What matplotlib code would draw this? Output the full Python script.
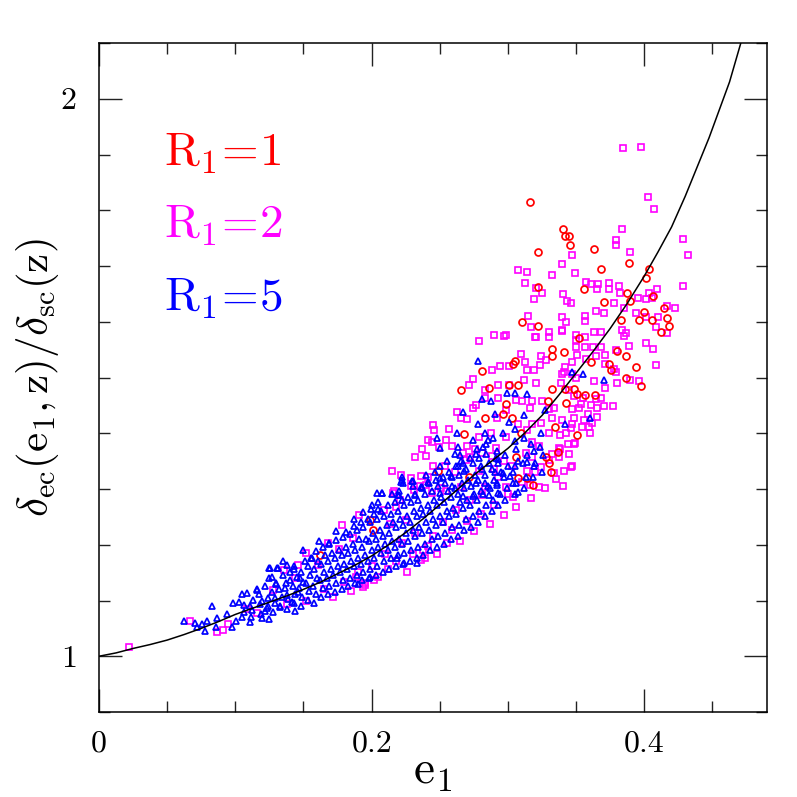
import matplotlib
matplotlib.use("Agg")
import matplotlib.pyplot as plt
from matplotlib.ticker import MultipleLocator, FixedLocator

plt.rcParams['mathtext.fontset'] = 'cm'
plt.rcParams['font.family'] = ['cmr10', 'DejaVu Serif']
plt.rcParams['axes.formatter.use_mathtext'] = True

# ---- theoretical curve ----
curve_e = [0.0, 0.0125, 0.025, 0.0375, 0.05, 0.0625, 0.075, 0.0875, 0.1, 0.1125, 0.125,
           0.1375, 0.15, 0.1625, 0.175, 0.1875, 0.2, 0.2125, 0.225, 0.2375, 0.25, 0.2625,
           0.275, 0.2875, 0.3, 0.3125, 0.325, 0.3375, 0.35, 0.3625, 0.375, 0.3875, 0.4,
           0.41, 0.42, 0.43, 0.44, 0.4475, 0.455, 0.4625, 0.4708]
curve_y = [1.0, 1.006, 1.014, 1.021, 1.029, 1.039, 1.050, 1.062, 1.075, 1.086, 1.097,
           1.108, 1.120, 1.133, 1.148, 1.163, 1.180, 1.200, 1.222, 1.246, 1.272, 1.298,
           1.325, 1.349, 1.373, 1.401, 1.432, 1.469, 1.508, 1.547, 1.588, 1.633, 1.682,
           1.725, 1.770, 1.825, 1.885, 1.930, 1.980, 2.030, 2.100]

# ---- R1 = 1 (red circles) ----
red_points = [
    (0.3165, 1.815), (0.3407, 1.767), (0.3421, 1.753), (0.3451, 1.754), (0.3458, 1.737),
    (0.3223, 1.726), (0.3634, 1.731), (0.3685, 1.694), (0.3890, 1.706), (0.4037, 1.695),
    (0.4015, 1.679), (0.3223, 1.663), (0.3560, 1.659), (0.3875, 1.652), (0.4066, 1.647),
    (0.3707, 1.636), (0.3897, 1.638), (0.4147, 1.624), (0.4000, 1.618), (0.3832, 1.604),
    (0.3963, 1.604), (0.4059, 1.604), (0.4168, 1.606), (0.4183, 1.593), (0.4125, 1.582),
    (0.3106, 1.600), (0.3223, 1.593), (0.3524, 1.570), (0.3055, 1.530), (0.3040, 1.525),
    (0.3326, 1.552), (0.3326, 1.539), (0.3414, 1.545), (0.2813, 1.511), (0.2659, 1.477),
    (0.2864, 1.482), (0.3004, 1.487), (0.3077, 1.487), (0.3326, 1.480), (0.3421, 1.480),
    (0.2989, 1.453), (0.3297, 1.457), (0.3509, 1.471), (0.3429, 1.455), (0.2828, 1.427),
    (0.2960, 1.434), (0.3026, 1.428), (0.2681, 1.398), (0.3092, 1.401), (0.3348, 1.412),
    (0.3062, 1.357), (0.3282, 1.357), (0.3370, 1.367), (0.3304, 1.346), (0.3319, 1.330),
    (0.3136, 1.319), (0.3077, 1.319), (0.3187, 1.308), (0.2484, 1.332), (0.2711, 1.321),
    (0.3802, 1.548), (0.3868, 1.539), (0.3612, 1.527), (0.3744, 1.525), (0.3758, 1.513),
    (0.3941, 1.518), (0.3868, 1.500), (0.3978, 1.484), (0.3568, 1.468), (0.3641, 1.468),
    (0.3487, 1.480), (0.3509, 1.396), (0.1985, 1.244), (0.2007, 1.226), (0.1619, 1.181),
]

# ---- R1 = 2 (magenta squares) ----
magenta_points = [
    (0.3846, 1.912), (0.3978, 1.914), (0.4029, 1.824), (0.4073, 1.803), (0.3839, 1.767),
    (0.3795, 1.746), (0.3795, 1.737), (0.3897, 1.726), (0.4286, 1.749), (0.4322, 1.720),
    (0.3473, 1.719), (0.3399, 1.704), (0.3077, 1.692), (0.3136, 1.690), (0.3326, 1.683),
    (0.3495, 1.688), (0.3128, 1.670), (0.3209, 1.661), (0.3253, 1.652), (0.3575, 1.672),
    (0.3612, 1.667), (0.3663, 1.668), (0.3744, 1.670), (0.3817, 1.665), (0.3656, 1.658),
    (0.3744, 1.659), (0.3824, 1.651), (0.4095, 1.659), (0.4037, 1.652), (0.4059, 1.643),
    (0.4286, 1.665), (0.3407, 1.649), (0.3194, 1.640), (0.3436, 1.638), (0.3465, 1.634),
    (0.3780, 1.634), (0.3853, 1.624), (0.3956, 1.643), (0.4015, 1.640), (0.4168, 1.629),
    (0.4227, 1.624), (0.3648, 1.620), (0.3707, 1.616), (0.3150, 1.611), (0.3399, 1.609),
    (0.3429, 1.600), (0.3568, 1.611), (0.3568, 1.602), (0.3941, 1.615), (0.4015, 1.608),
    (0.4103, 1.608), (0.3172, 1.590), (0.3399, 1.586), (0.3304, 1.582), (0.3634, 1.582),
    (0.3685, 1.582), (0.3839, 1.586), (0.3868, 1.579), (0.4088, 1.591), (0.4168, 1.579),
    (0.2974, 1.575), (0.3209, 1.573), (0.3502, 1.577),
    (0.2901, 1.577), (0.2982, 1.577), (0.2784, 1.565), (0.3201, 1.573), (0.3304, 1.573),
    (0.3399, 1.584), (0.3502, 1.568), (0.3099, 1.543), (0.3245, 1.539), (0.3282, 1.532),
    (0.3128, 1.527), (0.3238, 1.522), (0.2886, 1.513), (0.2938, 1.520), (0.3011, 1.520),
    (0.3473, 1.527), (0.3143, 1.514), (0.3194, 1.514), (0.3121, 1.496), (0.3209, 1.491),
    (0.2747, 1.498), (0.2711, 1.487), (0.2835, 1.477), (0.2930, 1.486), (0.3011, 1.486),
    (0.3392, 1.491), (0.3399, 1.507), (0.3473, 1.507), (0.3062, 1.459), (0.3106, 1.457),
    (0.3179, 1.457), (0.3253, 1.457), (0.2930, 1.464), (0.2835, 1.464), (0.2740, 1.446),
    (0.2769, 1.450), (0.2623, 1.439), (0.3165, 1.446), (0.3304, 1.444), (0.3341, 1.446),
    (0.2989, 1.441), (0.2659, 1.428), (0.2696, 1.425), (0.2447, 1.414), (0.2454, 1.405),
    (0.2564, 1.407), (0.2923, 1.428), (0.3070, 1.416), (0.3179, 1.416), (0.3245, 1.418),
    (0.3326, 1.428), (0.3399, 1.423), (0.3473, 1.416), (0.2791, 1.394), (0.2872, 1.400),
    (0.2410, 1.387), (0.2440, 1.384), (0.2549, 1.387), (0.2366, 1.371), (0.2491, 1.376),
    (0.2593, 1.378), (0.2703, 1.378), (0.2755, 1.371), (0.2982, 1.394), (0.3136, 1.405),
    (0.3179, 1.385), (0.3304, 1.400), (0.3385, 1.396), (0.3443, 1.380), (0.3495, 1.382),
    (0.2315, 1.357), (0.2396, 1.360), (0.2447, 1.342), (0.2667, 1.364), (0.2718, 1.357),
    (0.2886, 1.360), (0.2974, 1.351), (0.3179, 1.358), (0.3326, 1.362), (0.3473, 1.341),
    (0.2147, 1.333), (0.2359, 1.324), (0.2535, 1.341), (0.2784, 1.332), (0.2901, 1.335),
    (0.3136, 1.333), (0.3245, 1.339), (0.3341, 1.328), (0.2286, 1.306), (0.2396, 1.308),
    (0.2549, 1.297), (0.2659, 1.303), (0.2982, 1.303), (0.3158, 1.308), (0.3231, 1.303),
    (0.3407, 1.306), (0.2154, 1.292), (0.2440, 1.292), (0.2813, 1.289), (0.3040, 1.285),
    (0.3568, 1.573), (0.3853, 1.575), (0.3502, 1.554), (0.3568, 1.554), (0.3626, 1.554),
    (0.3685, 1.554), (0.3890, 1.557), (0.4015, 1.561), (0.4066, 1.552), (0.3509, 1.541),
    (0.3648, 1.538), (0.3714, 1.541), (0.3795, 1.550), (0.3575, 1.534), (0.4088, 1.523),
    (0.3421, 1.518), (0.3714, 1.525), (0.3780, 1.516), (0.3795, 1.509), (0.3414, 1.509),
    (0.3502, 1.500), (0.3634, 1.493), (0.3802, 1.491), (0.3897, 1.496), (0.3963, 1.493),
    (0.3714, 1.482), (0.3451, 1.477), (0.3487, 1.466), (0.3553, 1.464), (0.3648, 1.461),
    (0.3685, 1.464), (0.3538, 1.453), (0.3612, 1.450), (0.3656, 1.446), (0.3707, 1.448),
    (0.3773, 1.448), (0.3473, 1.443), (0.3524, 1.446), (0.3590, 1.435), (0.3656, 1.430),
    (0.3487, 1.427), (0.3560, 1.423), (0.3619, 1.419), (0.3546, 1.412), (0.3465, 1.409),
    (0.3597, 1.412), (0.3429, 1.400), (0.3604, 1.400), (0.3487, 1.380), (0.3377, 1.357),
    (0.3465, 1.339), (0.3377, 1.373),
    (0.2212, 1.326), (0.2161, 1.296), (0.1905, 1.254), (0.1780, 1.235), (0.1949, 1.131),
    (0.2015, 1.136), (0.2388, 1.176), (0.2374, 1.190), (0.0220, 1.016), (0.0667, 1.063),
    (0.0864, 1.043), (0.0908, 1.047), (0.0945, 1.057), (0.1084, 1.084), (0.1158, 1.077),
    (0.1355, 1.154), (0.1458, 1.163), (0.2290, 1.319), (0.2352, 1.306), (0.1678, 1.203),
    (0.1521, 1.185), (0.1888, 1.142), (0.1934, 1.124), (0.2254, 1.244), (0.2132, 1.238),
    (0.2181, 1.268),
    (0.152, 1.100), (0.165, 1.121), (0.172, 1.106), (0.180, 1.133), (0.185, 1.117),
    (0.190, 1.152), (0.195, 1.127), (0.200, 1.161), (0.205, 1.142), (0.210, 1.183),
    (0.212, 1.156), (0.218, 1.171), (0.222, 1.203), (0.226, 1.152), (0.230, 1.184),
    (0.232, 1.221), (0.236, 1.172), (0.241, 1.197), (0.245, 1.216), (0.248, 1.183),
    (0.252, 1.241), (0.255, 1.204), (0.259, 1.226), (0.262, 1.262), (0.265, 1.207),
    (0.270, 1.243), (0.272, 1.281), (0.275, 1.224), (0.280, 1.256), (0.283, 1.303),
    (0.287, 1.238), (0.290, 1.272), (0.293, 1.322), (0.297, 1.253), (0.300, 1.291),
    (0.303, 1.342), (0.306, 1.268), (0.310, 1.312), (0.313, 1.364), (0.317, 1.283),
    (0.320, 1.331), (0.323, 1.377), (0.327, 1.302), (0.330, 1.352), (0.335, 1.318),
    (0.338, 1.371), (0.341, 1.333), (0.345, 1.362), (0.251, 1.302), (0.261, 1.331),
    (0.269, 1.352), (0.281, 1.364), (0.291, 1.373), (0.209, 1.262), (0.221, 1.281),
    (0.231, 1.298), (0.241, 1.322), (0.176, 1.192), (0.186, 1.212), (0.161, 1.163),
    (0.144, 1.141), (0.128, 1.118), (0.138, 1.093),
]

# ---- R1 = 5 (blue triangles) ----
blue_points = [
    (0.0623, 1.063), (0.0703, 1.059), (0.0718, 1.052), (0.0755, 1.057), (0.0791, 1.063),
    (0.0777, 1.045), (0.0828, 1.091), (0.0864, 1.068), (0.0857, 1.052), (0.0938, 1.075),
    (0.0982, 1.095), (0.0974, 1.052), (0.1004, 1.063), (0.1026, 1.097), (0.1048, 1.111),
    (0.1084, 1.113), (0.1114, 1.070), (0.1158, 1.118), (0.1194, 1.068), (0.1245, 1.066),
    (0.1253, 1.158), (0.1267, 1.142), (0.1304, 1.159), (0.1348, 1.170), (0.1429, 1.161),
    (0.1194, 1.100), (0.1238, 1.090), (0.1289, 1.104), (0.1326, 1.091), (0.1377, 1.109),
    (0.1414, 1.097), (0.1458, 1.115), (0.1363, 1.122), (0.1216, 1.082), (0.1106, 1.091),
    (0.1062, 1.079), (0.1473, 1.140), (0.1399, 1.136), (0.1297, 1.129), (0.1436, 1.082),
    (0.1158, 1.120), (0.1245, 1.158), (0.1311, 1.159), (0.1495, 1.190), (0.1553, 1.176),
    (0.1612, 1.206), (0.1685, 1.204), (0.1736, 1.224), (0.1810, 1.222), (0.1868, 1.246),
    (0.1934, 1.258), (0.2037, 1.292), (0.2073, 1.292), (0.1993, 1.265), (0.2044, 1.265),
    (0.2198, 1.289), (0.2220, 1.317), (0.2227, 1.310), (0.2300, 1.315), (0.2366, 1.303),
    (0.2410, 1.312), (0.2330, 1.167), (0.2234, 1.168), (0.2183, 1.177), (0.1985, 1.142),
    (0.1897, 1.129),
    (0.2777, 1.530), (0.2996, 1.473), (0.3055, 1.473), (0.3136, 1.471), (0.2813, 1.461),
    (0.2879, 1.457), (0.2667, 1.439), (0.2908, 1.434), (0.3114, 1.432), (0.3421, 1.416),
    (0.2777, 1.416), (0.3048, 1.407), (0.2476, 1.392), (0.2623, 1.401), (0.2740, 1.387),
    (0.2835, 1.401), (0.2505, 1.373), (0.2637, 1.376), (0.2857, 1.387), (0.3062, 1.371),
    (0.3194, 1.369), (0.3238, 1.375), (0.2615, 1.362), (0.2769, 1.362), (0.2842, 1.362),
    (0.2916, 1.369), (0.2659, 1.351), (0.2630, 1.341), (0.2799, 1.341), (0.2930, 1.353),
    (0.3136, 1.349), (0.3201, 1.346), (0.3048, 1.342), (0.2220, 1.321), (0.2293, 1.315),
    (0.2462, 1.330), (0.2505, 1.319), (0.2579, 1.323), (0.2681, 1.333), (0.2908, 1.330),
    (0.2967, 1.328), (0.3018, 1.323), (0.2212, 1.312), (0.2359, 1.303), (0.2586, 1.306),
    (0.2762, 1.310), (0.2835, 1.310), (0.2923, 1.308), (0.3040, 1.310), (0.3077, 1.294),
    (0.2073, 1.292), (0.2190, 1.289), (0.2315, 1.290), (0.2498, 1.292), (0.2667, 1.287),
    (0.2740, 1.287), (0.2864, 1.289), (0.2930, 1.292), (0.3473, 1.509), (0.3553, 1.507),
    (0.3707, 1.496), (0.3604, 1.428),
    # dense band interior
    (0.105, 1.071), (0.106, 1.092), (0.112, 1.083), (0.113, 1.101), (0.111, 1.061),
    (0.118, 1.093), (0.117, 1.112), (0.119, 1.076), (0.123, 1.087), (0.124, 1.104),
    (0.122, 1.126), (0.125, 1.141), (0.128, 1.079), (0.129, 1.096), (0.127, 1.116),
    (0.130, 1.132), (0.133, 1.088), (0.134, 1.107), (0.132, 1.121), (0.135, 1.146),
    (0.138, 1.084), (0.139, 1.102), (0.137, 1.131), (0.140, 1.151), (0.138, 1.163),
    (0.143, 1.096), (0.144, 1.112), (0.142, 1.126), (0.145, 1.142), (0.143, 1.157),
    (0.148, 1.091), (0.149, 1.106), (0.147, 1.122), (0.150, 1.134), (0.148, 1.152),
    (0.151, 1.171), (0.153, 1.101), (0.154, 1.117), (0.152, 1.131), (0.155, 1.146),
    (0.153, 1.162), (0.156, 1.177), (0.158, 1.096), (0.159, 1.112), (0.157, 1.126),
    (0.160, 1.141), (0.158, 1.156), (0.161, 1.171), (0.159, 1.188), (0.163, 1.106),
    (0.164, 1.122), (0.162, 1.136), (0.165, 1.151), (0.163, 1.166), (0.166, 1.181),
    (0.164, 1.196), (0.168, 1.112), (0.169, 1.126), (0.167, 1.141), (0.170, 1.156),
    (0.168, 1.171), (0.171, 1.186), (0.169, 1.201), (0.173, 1.116), (0.174, 1.131),
    (0.172, 1.146), (0.175, 1.161), (0.173, 1.176), (0.176, 1.191), (0.174, 1.209),
    (0.178, 1.121), (0.179, 1.136), (0.177, 1.151), (0.180, 1.166), (0.178, 1.181),
    (0.181, 1.196), (0.179, 1.214), (0.183, 1.126), (0.184, 1.141), (0.182, 1.156),
    (0.185, 1.171), (0.183, 1.186), (0.186, 1.201), (0.184, 1.219), (0.187, 1.234),
    (0.188, 1.131), (0.189, 1.146), (0.187, 1.161), (0.190, 1.176), (0.188, 1.191),
    (0.191, 1.211), (0.189, 1.226), (0.192, 1.241), (0.193, 1.136), (0.194, 1.151),
    (0.192, 1.166), (0.195, 1.181), (0.193, 1.196), (0.196, 1.211), (0.194, 1.231),
    (0.197, 1.246), (0.198, 1.141), (0.199, 1.156), (0.197, 1.171), (0.200, 1.191),
    (0.198, 1.206), (0.201, 1.221), (0.199, 1.241), (0.202, 1.256), (0.200, 1.271),
    (0.203, 1.146), (0.204, 1.161), (0.202, 1.176), (0.205, 1.196), (0.203, 1.211),
    (0.206, 1.226), (0.204, 1.246), (0.207, 1.261), (0.205, 1.276), (0.208, 1.151),
    (0.209, 1.171), (0.207, 1.186), (0.210, 1.201), (0.208, 1.216), (0.211, 1.236),
    (0.209, 1.251), (0.212, 1.271), (0.213, 1.156), (0.214, 1.176), (0.212, 1.191),
    (0.215, 1.206), (0.213, 1.221), (0.216, 1.241), (0.214, 1.256), (0.217, 1.276),
    (0.215, 1.291), (0.218, 1.161), (0.219, 1.181), (0.217, 1.196), (0.220, 1.211),
    (0.218, 1.231), (0.221, 1.246), (0.219, 1.261), (0.222, 1.281), (0.220, 1.296),
    (0.223, 1.166), (0.224, 1.186), (0.222, 1.201), (0.225, 1.221), (0.223, 1.236),
    (0.226, 1.251), (0.224, 1.271), (0.227, 1.286), (0.228, 1.171), (0.229, 1.191),
    (0.227, 1.206), (0.230, 1.226), (0.228, 1.241), (0.231, 1.261), (0.229, 1.276),
    (0.232, 1.291), (0.230, 1.306), (0.233, 1.176), (0.234, 1.196), (0.232, 1.216),
    (0.235, 1.231), (0.233, 1.251), (0.236, 1.266), (0.234, 1.281), (0.237, 1.301),
    (0.238, 1.181), (0.239, 1.201), (0.237, 1.221), (0.240, 1.241), (0.238, 1.256),
    (0.241, 1.271), (0.239, 1.291), (0.242, 1.311), (0.240, 1.326), (0.243, 1.191),
    (0.244, 1.211), (0.242, 1.226), (0.245, 1.246), (0.243, 1.261), (0.246, 1.281),
    (0.244, 1.296), (0.247, 1.316), (0.248, 1.196), (0.249, 1.216), (0.247, 1.236),
    (0.250, 1.251), (0.248, 1.271), (0.251, 1.286), (0.249, 1.306), (0.252, 1.321),
    (0.250, 1.341), (0.253, 1.201), (0.254, 1.221), (0.252, 1.241), (0.255, 1.261),
    (0.253, 1.276), (0.256, 1.296), (0.254, 1.311), (0.257, 1.331), (0.255, 1.351),
    (0.258, 1.211), (0.259, 1.231), (0.257, 1.251), (0.260, 1.266), (0.258, 1.286),
    (0.261, 1.301), (0.259, 1.321), (0.262, 1.341), (0.263, 1.216), (0.264, 1.236),
    (0.262, 1.256), (0.265, 1.276), (0.263, 1.291), (0.266, 1.311), (0.264, 1.326),
    (0.267, 1.346), (0.265, 1.361), (0.268, 1.226), (0.269, 1.246), (0.267, 1.266),
    (0.270, 1.281), (0.268, 1.301), (0.271, 1.316), (0.269, 1.336), (0.272, 1.356),
    (0.273, 1.231), (0.274, 1.251), (0.272, 1.271), (0.275, 1.291), (0.273, 1.306),
    (0.276, 1.326), (0.274, 1.346), (0.277, 1.371), (0.278, 1.241), (0.279, 1.261),
    (0.277, 1.281), (0.280, 1.296), (0.278, 1.316), (0.281, 1.336), (0.279, 1.356),
    (0.282, 1.376), (0.283, 1.251), (0.284, 1.271), (0.282, 1.291), (0.285, 1.306),
    (0.283, 1.326), (0.286, 1.346), (0.284, 1.381), (0.288, 1.261), (0.289, 1.281),
    (0.287, 1.301), (0.290, 1.316), (0.288, 1.336), (0.291, 1.356), (0.289, 1.391),
    (0.293, 1.271), (0.294, 1.291), (0.292, 1.311), (0.295, 1.331), (0.293, 1.346),
    (0.296, 1.401), (0.298, 1.281), (0.299, 1.301), (0.297, 1.321), (0.300, 1.341),
    (0.298, 1.361), (0.301, 1.421), (0.305, 1.291), (0.306, 1.311), (0.304, 1.331),
    (0.307, 1.351), (0.305, 1.386), (0.312, 1.301), (0.313, 1.321), (0.311, 1.346),
    (0.314, 1.361), (0.312, 1.391), (0.318, 1.321), (0.319, 1.341), (0.317, 1.381),
    (0.325, 1.331), (0.326, 1.361), (0.324, 1.401), (0.327, 1.441),
]

labels = [r'$\mathrm{R_1\!=\!1}$', r'$\mathrm{R_1\!=\!2}$', r'$\mathrm{R_1\!=\!5}$']
label_colors = ['#ff0000', '#ff00ff', '#0000ff']
label_y = [1.880, 1.751, 1.620]
xtick_vals = [0.0, 0.2, 0.4]
xtick_text = ['0', '0.2', '0.4']
ytick_vals = [1.0, 2.0]
ytick_text = ['1', '2']

fig = plt.figure(figsize=(7.97, 7.97), dpi=100)
ax = fig.add_axes([99 / 797, 85 / 797, 668 / 797, 669 / 797])

me, my = zip(*magenta_points)
ax.plot(me, my, ls='none', marker='s', ms=4.0, mfc='none', mec='#ff00ff', mew=1.2)
re, ry = zip(*red_points)
ax.plot(re, ry, ls='none', marker='o', ms=5.0, mfc='none', mec='#ff0000', mew=1.25)
be, by = zip(*blue_points)
ax.plot(be, by, ls='none', marker='^', ms=5.0, mfc='none', mec='#0000ff', mew=1.25)

ax.plot(curve_e, curve_y, color='black', lw=1.1)

ax.set_xlim(0, 0.49)
ax.set_ylim(0.9, 2.1)

ax.xaxis.set_major_locator(FixedLocator(xtick_vals))
ax.xaxis.set_minor_locator(MultipleLocator(0.05))
ax.yaxis.set_major_locator(FixedLocator(ytick_vals))
ax.yaxis.set_minor_locator(MultipleLocator(0.1))
ax.set_xticklabels(xtick_text)
ax.set_yticklabels(ytick_text)
ax.tick_params(which='both', direction='in', top=True, right=True, width=1.0, color='#222222')
ax.tick_params(which='major', length=16.5, labelsize=23, pad=13)
ax.tick_params(which='minor', length=8)
ax.tick_params(axis='y', which='major', pad=16)
for sp in ax.spines.values():
    sp.set_linewidth(1.1)

ax.set_xlabel(r'$\mathrm{e_1}$', fontsize=34, labelpad=-4)
ax.set_ylabel(r'$\delta_{\rm ec}(\mathrm{e_1,z})/\delta_{\rm sc}(\mathrm{z})$', fontsize=31, labelpad=0)

for txt, col, yy in zip(labels, label_colors, label_y):
    ax.text(0.048, yy, txt, color=col, fontsize=34, va='baseline', ha='left')

fig.savefig('out.png', dpi=100)
